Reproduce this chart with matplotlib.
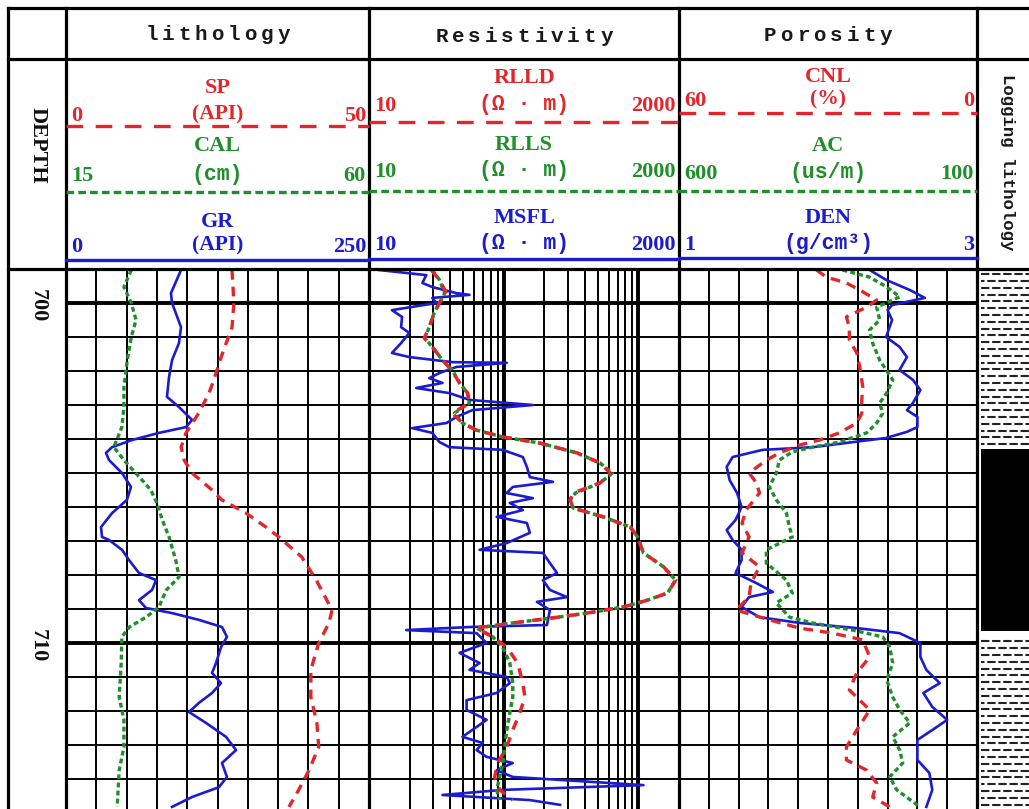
import numpy as np
import matplotlib
matplotlib.use("Agg")
import matplotlib.pyplot as plt

plt.rcParams['lines.scale_dashes'] = False

# ---------------- curve readings (depth in m) ----------------
gr_depth = [699.03, 699.71, 700.00, 700.71, 701.18, 701.68, 702.18, 702.76, 703.06, 703.44,
            703.65, 703.82, 704.03, 704.24, 704.41, 704.62, 705.00, 705.41, 705.79, 706.18,
            706.59, 706.88, 706.97, 707.26, 707.56, 707.94, 708.15, 708.44, 708.74, 708.97,
            709.12, 709.32, 709.53, 709.82, 710.12, 710.59, 710.88, 711.18, 711.47, 711.76,
            712.03, 712.35, 712.76, 713.15, 713.53, 713.94, 714.24, 714.53, 714.82]
gr_api = [94.9, 86.6, 87.5, 94.9, 93.2, 87.5, 85.0, 83.3, 93.2, 104.0,
          99.0, 76.7, 54.5, 38.0, 33.0, 35.5, 46.2, 53.6, 50.3, 38.0,
          28.9, 29.7, 35.5, 46.2, 52.0, 60.2, 74.3, 71.0, 60.2, 66.0,
          87.5, 109.7, 128.7, 132.8, 127.9, 123.8, 120.5, 127.9, 120.5, 109.7,
          101.5, 115.5, 132.0, 140.3, 128.7, 132.8, 126.2, 104.0, 87.5]

sp_depth = [699.03, 700.00, 700.71, 701.59, 702.26, 702.65, 703.24, 703.82, 704.24, 704.62,
            705.00, 705.50, 705.79, 706.18, 706.59, 706.88, 707.47, 708.15, 709.03, 709.41,
            710.00, 710.79, 711.59, 712.35, 713.06, 713.74, 714.32, 714.82]
sp_api = [27.4, 27.7, 27.4, 25.6, 24.4, 23.6, 21.9, 19.8, 19.0, 19.5,
          20.8, 24.1, 25.7, 29.7, 33.0, 35.1, 38.9, 41.3, 43.9, 43.4,
          41.7, 40.4, 40.4, 41.4, 41.7, 40.1, 38.4, 36.8]

cal_depth = [699.03, 699.53, 700.00, 700.50, 701.00, 701.68, 702.47, 703.06, 703.65, 704.24,
             704.62, 705.12, 705.50, 705.88, 706.38, 706.88, 707.56, 708.06, 708.44, 708.94,
             709.24, 709.53, 709.82, 710.59, 711.59, 712.26, 713.06, 713.74, 714.82]
cal_cm = [24.7, 23.6, 24.7, 25.4, 24.7, 24.1, 23.6, 23.6, 23.3, 22.1,
          23.6, 25.9, 27.6, 28.5, 29.3, 30.3, 31.3, 31.8, 29.9, 28.8,
          26.9, 24.4, 23.3, 23.2, 22.9, 23.6, 23.6, 22.9, 22.6]

msfl_depth = [699.03, 699.18, 699.41, 699.53, 699.71, 699.76, 699.85, 700.00, 700.21, 700.41,
              700.71, 700.88, 701.18, 701.47, 701.59, 701.74, 701.76, 701.88, 702.06, 702.21,
              702.35, 702.50, 702.65, 702.85, 703.00, 703.15, 703.35, 703.53, 703.68, 703.82,
              704.09, 704.24, 704.32, 704.53, 704.82, 705.12, 705.26, 705.41, 705.59, 705.74,
              705.88, 706.09, 706.29, 706.47, 706.76, 707.06, 707.26, 707.35, 707.65, 707.94,
              708.15, 708.44, 708.65, 708.79, 709.03, 709.47, 709.53, 709.62, 709.71, 710.00,
              710.29, 710.59, 710.79, 711.00, 711.18, 711.47, 711.68, 711.97, 712.26, 712.47,
              712.76, 712.94, 713.15, 713.35, 713.53, 713.74, 713.94, 714.18, 714.32, 714.47,
              714.62, 714.76]
msfl_ohm = [11.9, 26.6, 24.9, 29.5, 44.6, 55.7, 29.5, 31.6, 14.8, 17.6,
            17.3, 19.9, 17.3, 14.8, 19.9, 41.6, 105.3, 44.6, 33.3, 28.0,
            35.1, 22.4, 39.5, 55.7, 164.6, 58.7, 44.6, 37.6, 20.9, 29.5,
            33.3, 39.5, 98.3, 138.6, 148.5, 156.3, 232.2, 116.7, 105.3, 164.6,
            110.9, 138.6, 88.7, 148.5, 156.3, 105.3, 66.2, 195.4, 220.3, 248.7,
            195.4, 220.3, 295.1, 176.3, 220.3, 209.4, 55.7, 18.9, 62.9, 74.7,
            47.0, 66.2, 55.7, 105.3, 110.9, 88.7, 53.0, 53.0, 74.7, 62.9,
            49.4, 69.7, 62.9, 74.7, 116.7, 88.7, 116.7, 1089.0, 98.3, 35.1,
            156.3, 261.8]

rlld_depth = [699.03, 699.32, 699.71, 700.00, 700.29, 700.71, 701.03, 701.29, 701.68, 701.97,
              702.35, 702.65, 702.94, 703.24, 703.53, 703.74, 703.94, 704.12, 704.41, 704.71,
              705.00, 705.29, 705.59, 705.79, 706.03, 706.29, 706.59, 706.88, 707.35, 707.76,
              708.15, 708.53, 708.74, 708.94, 709.12, 709.26, 709.41, 709.56, 709.82, 710.12,
              710.59, 711.18, 711.59, 712.06, 712.56, 713.06, 713.53, 713.94, 714.32, 714.62]
rlld_ohm = [29.0, 33.3, 37.6, 33.3, 30.5, 28.0, 25.7, 29.5, 35.1, 40.9,
            47.0, 53.9, 55.7, 41.6, 49.4, 62.9, 98.3, 185.7, 350.8, 520.5,
            618.0, 520.5, 327.3, 311.0, 327.3, 548.0, 871.0, 984.0, 1089.0, 1537.0,
            1888.0, 1645.0, 1167.0, 773.0, 416.0, 232.2, 116.7, 62.9, 82.8, 105.3,
            127.1, 138.6, 143.5, 131.6, 116.7, 105.3, 90.2, 85.7, 93.3, 116.7]
rlls_ohm = [29.5, 33.3, 36.5, 33.3, 30.5, 28.0, 26.0, 29.5, 35.1, 41.5,
            47.0, 53.9, 55.7, 43.0, 49.4, 62.9, 98.3, 185.7, 350.8, 520.5,
            640.0, 520.5, 340.0, 311.0, 327.3, 548.0, 871.0, 984.0, 1089.0, 1537.0,
            1888.0, 1645.0, 1167.0, 773.0, 416.0, 232.2, 116.7, 62.9, 82.8, 98.3,
            110.9, 116.7, 116.7, 110.9, 105.3, 101.7, 98.3, 93.3, 88.7, 93.3]

cnl_depth = [699.03, 699.24, 699.41, 699.62, 699.91, 700.12, 700.41, 700.71, 701.09, 701.47,
             701.88, 702.47, 702.85, 703.24, 703.53, 703.82, 704.03, 704.18, 704.41, 704.62,
             705.00, 705.29, 705.59, 706.09, 706.47, 706.88, 707.35, 707.76, 708.24, 708.65,
             709.03, 709.32, 709.56, 709.71, 709.91, 710.41, 710.88, 711.38, 711.97, 712.56,
             713.06, 713.44, 713.74, 714.12, 714.53, 714.82]
cnl_pct = [32.3, 30.3, 26.3, 23.6, 20.2, 22.2, 26.3, 25.7, 25.7, 24.2,
           23.6, 23.0, 23.2, 23.2, 24.2, 27.7, 31.7, 35.8, 39.8, 42.4,
           45.9, 44.4, 43.8, 46.5, 47.3, 45.9, 47.3, 43.8, 45.5, 45.9,
           48.5, 41.8, 35.8, 29.1, 23.0, 21.6, 24.2, 25.7, 21.6, 24.2,
           26.3, 26.3, 22.2, 20.2, 21.0, 17.6]

ac_depth = [699.03, 699.24, 699.53, 699.82, 700.12, 700.50, 700.79, 701.18, 701.68, 702.26,
            702.65, 702.94, 703.24, 703.53, 703.82, 704.09, 704.24, 704.38, 704.62, 705.00,
            705.41, 705.79, 706.18, 706.59, 706.88, 707.26, 707.65, 708.15, 708.53, 708.82,
            709.24, 709.41, 709.62, 709.82, 710.12, 710.59, 711.09, 711.59, 711.97, 712.35,
            712.76, 713.15, 713.53, 713.94, 714.32, 714.82]
ac_us = [325.6, 280.1, 251.5, 229.6, 268.3, 263.3, 280.1, 275.1, 263.3, 241.4,
         251.5, 263.3, 258.2, 268.3, 285.2, 330.6, 376.1, 409.8, 431.6, 436.7,
         448.5, 436.7, 419.8, 414.7, 409.8, 453.5, 453.5, 419.8, 409.8, 436.7,
         414.7, 376.1, 308.8, 258.2, 246.5, 241.4, 251.5, 241.4, 229.6, 212.8,
         241.4, 229.6, 224.6, 246.5, 234.7, 196.0]

den_depth = [699.03, 699.32, 699.62, 699.85, 700.06, 700.21, 700.50, 701.00, 701.29, 701.59,
             701.97, 702.26, 702.56, 702.94, 703.15, 703.35, 703.65, 703.79, 703.97, 704.09,
             704.24, 704.32, 704.53, 704.82, 705.21, 705.59, 706.00, 706.38, 706.68, 706.97,
             707.26, 707.56, 707.94, 708.24, 708.50, 708.65, 708.94, 709.24, 709.41, 709.56,
             709.71, 710.00, 710.41, 710.79, 711.18, 711.47, 711.88, 712.26, 712.56, 712.85,
             713.44, 713.82, 714.32, 714.82]
den_gcc = [2.28, 2.39, 2.55, 2.65, 2.43, 2.40, 2.43, 2.39, 2.48, 2.53,
           2.48, 2.57, 2.62, 2.57, 2.53, 2.60, 2.60, 2.53, 2.39, 2.17,
           1.90, 1.56, 1.36, 1.32, 1.34, 1.39, 1.42, 1.38, 1.32, 1.36,
           1.42, 1.42, 1.38, 1.52, 1.63, 1.47, 1.42, 1.54, 1.81, 2.19,
           2.48, 2.62, 2.62, 2.66, 2.75, 2.64, 2.70, 2.80, 2.70, 2.60,
           2.60, 2.68, 2.70, 2.66]

litho_top = [699.05, 704.30, 709.85]
litho_base = [704.30, 709.65, 714.90]
litho_kind = ['shale', 'sand', 'shale']
depth_labels = [700, 710]

# ---------------- layout (pixels) ----------------
W, H = 1029, 809
X_LEFT, X_DEPTH, X_LITH, X_RES, X_POR = 8, 66, 369, 679, 977
Y_TOP, Y_TITLE, Y_HEAD = 8, 59, 269
DEPTH_TOP = 699.0
PX_PER_M = 34.0
depth_bot = DEPTH_TOP + (H - Y_HEAD) / PX_PER_M

RED = '#e3262b'
GREEN = '#1f8f2a'
BLUE = '#1b1bd0'
THIN, THICK, FRAME = 1.4, 2.8, 2.3
SERIF = 'Liberation Serif'
MONO = 'Liberation Mono'


def fbox(x0, y0, x1, y1):
    return [x0 / W, 1 - y1 / H, (x1 - x0) / W, (y1 - y0) / H]


def track(x0, x1, xlim, scale='linear'):
    ax = fig.add_axes(fbox(x0, Y_HEAD, x1, H), facecolor='none')
    ax.set_xscale(scale)
    ax.set_xlim(xlim)
    ax.set_ylim(depth_bot, DEPTH_TOP)
    ax.axis('off')
    for d in np.arange(700, 715):
        ax.axhline(d, color='k', lw=THICK if d % 10 == 0 else THIN, zorder=1)
    return ax


def twin(ax, xlim):
    t = ax.twiny()
    t.set_xlim(xlim)
    t.set_ylim(depth_bot, DEPTH_TOP)
    t.axis('off')
    return t


fig = plt.figure(figsize=(W / 100, H / 100), dpi=100)

# lithology track
ax_gr = track(X_DEPTH, X_LITH, (0, 250))
for v in np.linspace(0, 250, 11)[1:-1]:
    ax_gr.axvline(v, color='k', lw=THIN, zorder=1)
ax_gr.plot(gr_api, gr_depth, color=BLUE, lw=1.9, zorder=3)
ax_sp = twin(ax_gr, (0, 50))
ax_sp.plot(sp_api, sp_depth, color=RED, lw=2.4, dashes=(7, 5))
ax_cal = twin(ax_gr, (15, 60))
ax_cal.plot(cal_cm, cal_depth, color=GREEN, lw=2.4, dashes=(3.5, 2.3))

# resistivity track
ax_res = track(X_LITH, X_RES, (10, 2000), 'log')
for dec in (10, 100, 1000):
    for m in range(2, 10):
        if dec * m < 2000:
            ax_res.axvline(dec * m, color='k', lw=THIN, zorder=1)
for v in (100, 1000):
    ax_res.axvline(v, color='k', lw=THICK, zorder=1)
ax_res.plot(msfl_ohm, msfl_depth, color=BLUE, lw=1.9, zorder=3)
ax_res.plot(rlls_ohm, rlld_depth, color=GREEN, lw=2.5, dashes=(3.5, 2.3), zorder=4)
ax_res.plot(rlld_ohm, rlld_depth, color=RED, lw=2.5, dashes=(7, 6), zorder=5)

# porosity track
ax_den = track(X_RES, X_POR, (1, 3))
for v in np.linspace(1, 3, 11)[1:-1]:
    ax_den.axvline(v, color='k', lw=THIN, zorder=1)
ax_den.plot(den_gcc, den_depth, color=BLUE, lw=1.9, zorder=3)
ax_cnl = twin(ax_den, (60, 0))
ax_cnl.plot(cnl_pct, cnl_depth, color=RED, lw=2.4, dashes=(7, 5))
ax_ac = twin(ax_den, (600, 100))
ax_ac.plot(ac_us, ac_depth, color=GREEN, lw=2.4, dashes=(3.5, 2.3))

# logging lithology column
ax_lit = fig.add_axes(fbox(981, Y_HEAD, W, H), facecolor='none')
ax_lit.set_xlim(0, 1)
ax_lit.set_ylim(depth_bot, DEPTH_TOP)
ax_lit.axis('off')
for top, base, kind in zip(litho_top, litho_base, litho_kind):
    if kind == 'sand':
        ax_lit.fill_betweenx([top, base], 0, 1, color='k', lw=0)
    else:
        for i, r in enumerate(np.arange(top + 0.1, base, 0.2)):
            ax_lit.plot([0, 1], [r, r], color='#222222', lw=1.5,
                        linestyle=((i % 2) * 3.5, (6, 2.0)))

# depth column labels
ax_d = fig.add_axes(fbox(X_LEFT, Y_HEAD, X_DEPTH, H), facecolor='none')
ax_d.set_xlim(0, 1)
ax_d.set_ylim(depth_bot, DEPTH_TOP)
ax_d.axis('off')
for d in depth_labels:
    ax_d.text(0.52, d + 0.08, str(d), rotation=-90, ha='center', va='center',
              fontsize=16, family=SERIF, weight='bold', color='#111111')

# ---------------- frame and header ----------------
bg = fig.add_axes([0, 0, 1, 1], facecolor='none', zorder=10)
bg.set_xlim(0, W)
bg.set_ylim(H, 0)
bg.axis('off')

for y in (Y_TOP, Y_TITLE, Y_HEAD):
    bg.plot([X_LEFT, W], [y, y], color='k', lw=FRAME, solid_capstyle='projecting')
for x in (X_LEFT, X_DEPTH, X_LITH, X_RES, X_POR):
    bg.plot([x, x], [Y_TOP, H], color='k', lw=FRAME, solid_capstyle='projecting')


def spaced(xc, y, s, pitch=16.5):
    n = len(s)
    for i, ch in enumerate(s):
        bg.text(xc + (i - (n - 1) / 2) * pitch, y, ch, ha='center', va='baseline',
                fontsize=15, family=MONO, weight='bold', color='#1a1a1a')


spaced((X_DEPTH + X_LITH) / 2, 40, 'lithology')
spaced((X_LITH + X_RES) / 2, 42, 'Resistivity')
spaced((X_RES + X_POR) / 2, 41, 'Porosity')

bg.text(38, 145, 'DEPTH', rotation=-90, ha='center', va='center', fontsize=16,
        family=SERIF, weight='bold', color='#111111')
bg.text(1008, 162, 'Logging lithology', rotation=-90, ha='center', va='center',
        fontsize=12.5, family=MONO, weight='bold', color='#1a1a1a')


def head_curve(x0, x1, name, unit, lo, hi, color, y_name, y_unit, y_line, dashes, unit_mono):
    xc = (x0 + x1) / 2
    bg.text(xc, y_name, name, color=color, ha='center', va='center', fontsize=16,
            family=SERIF, weight='bold')
    bg.text(xc, y_unit, unit, color=color, ha='center', va='center', fontsize=15.5,
            family=MONO if unit_mono else SERIF, weight='bold')
    bg.text(x0 + 5, y_unit + 2, lo, color=color, ha='left', va='center', fontsize=16,
            family=SERIF, weight='bold')
    bg.text(x1 - 3, y_unit + 2, hi, color=color, ha='right', va='center', fontsize=16,
            family=SERIF, weight='bold')
    if dashes is None:
        bg.plot([x0, x1], [y_line, y_line], color=color, lw=2.4)
    else:
        bg.plot([x0, x1], [y_line, y_line], color=color, lw=2.4, dashes=dashes)


RED_D = (12, 9)
GREEN_D = (5.5, 3)
head_curve(X_DEPTH, X_LITH, 'SP', '(API)', '0', '50', RED, 88, 114, 126, RED_D, False)
head_curve(X_DEPTH, X_LITH, 'CAL', '(cm)', '15', '60', GREEN, 146, 174, 192, GREEN_D, True)
head_curve(X_DEPTH, X_LITH, 'GR', '(API)', '0', '250', BLUE, 222, 245, 260, None, False)

head_curve(X_LITH, X_RES, 'RLLD', '(\u03a9 \u00b7 m)', '10', '2000', RED, 78, 104, 122, RED_D, True)
head_curve(X_LITH, X_RES, 'RLLS', '(\u03a9 \u00b7 m)', '10', '2000', GREEN, 145, 170, 191, GREEN_D, True)
head_curve(X_LITH, X_RES, 'MSFL', '(\u03a9 \u00b7 m)', '10', '2000', BLUE, 218, 243, 259, None, True)

head_curve(X_RES, X_POR, 'CNL', '(%)', '60', '0', RED, 77, 99, 113, RED_D, False)
head_curve(X_RES, X_POR, 'AC', '(us/m)', '600', '100', GREEN, 146, 172, 191, GREEN_D, True)
head_curve(X_RES, X_POR, 'DEN', '(g/cm\u00b3)', '1', '3', BLUE, 218, 243, 258, None, True)

fig.savefig('out.png', dpi=100)
